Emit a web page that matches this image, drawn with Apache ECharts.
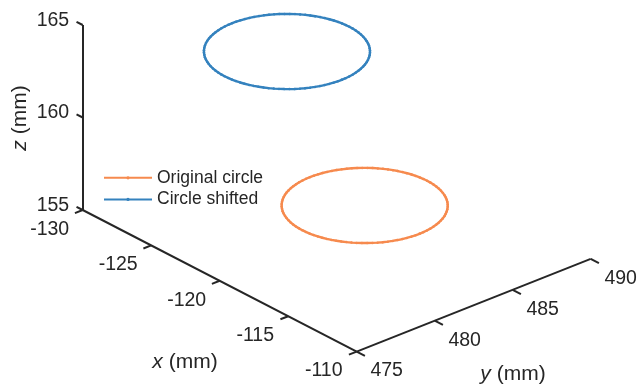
<!DOCTYPE html>
<html>
<head>
<meta charset="utf-8">
<script src="https://cdn.jsdelivr.net/npm/echarts@6/dist/echarts.min.js"></script>
<style>html,body{margin:0;padding:0;background:#fff}#c{width:639px;height:385px}</style>
</head>
<body>
<div id="c"></div>
<script>
// ---- data ----
const xTicks = [-130, -125, -120, -115, -110];
const yTicks = [475, 480, 485, 490];
const zTicks = [155, 160, 165];
const seriesNames = ['Original circle', 'Circle shifted'];
const circleCenters = [[-121.43, 485.55, 155.0], [-123.63, 482.5, 163.5]];
const circleRadius = [4, 4];
const circlePoints = 100;

// ---- 3D -> 2D view (layout) ----
const O = [82.7, 210], EX = [13.7, 7.08], EY = [15.6, -6.18], EZ = [0, -18.5];
const xmin = xTicks[0], xmax = xTicks[xTicks.length - 1];
const ymin = yTicks[0], ymax = yTicks[yTicks.length - 1];
const zmin = zTicks[0], zmax = zTicks[zTicks.length - 1];
function proj(x, y, z) {
  const dx = x - xmin, dy = y - ymin, dz = z - zmin;
  return [O[0] + EX[0] * dx + EY[0] * dy + EZ[0] * dz,
          O[1] + EX[1] * dx + EY[1] * dy + EZ[1] * dz];
}
function circle(c, r) {
  const pts = [];
  for (let i = 0; i <= circlePoints; i++) {
    const t = 2 * Math.PI * i / circlePoints;
    pts.push(proj(c[0] + r * Math.cos(t), c[1] + r * Math.sin(t), c[2]));
  }
  return pts;
}

const ink = '#262626';
const font = 'Liberation Sans, Arial, Helvetica, sans-serif';
const colors = ['#F68A4E', '#3482BE'];

const segs = [];
segs.push({coords: [proj(xmin, ymin, zmin), proj(xmin, ymin, zmax)]});
segs.push({coords: [proj(xmin, ymin, zmin), proj(xmax, ymin, zmin)]});
segs.push({coords: [proj(xmax, ymin, zmin), proj(xmax, ymax, zmin)]});
xTicks.forEach(v => segs.push({coords: [proj(v, ymin, zmin), proj(v, ymin - 0.5, zmin)]}));
yTicks.forEach(v => segs.push({coords: [proj(xmax, v, zmin), proj(xmax + 0.6, v, zmin)]}));
zTicks.forEach(v => segs.push({coords: [proj(xmin, ymin, v), proj(xmin - 0.45, ymin, v)]}));

function tickLabels(vals, fn, align, off) {
  return {
    type: 'custom', silent: true, z: 5,
    data: vals.map(v => fn(v).concat([v])),
    renderItem: function (params, api) {
      const p = api.coord([api.value(0), api.value(1)]);
      return {type: 'text', x: p[0] + off[0], y: p[1] + off[1],
        style: {text: String(api.value(2)), fill: ink, fontSize: 19.5, fontFamily: font,
          align: align, verticalAlign: 'middle'}};
    }
  };
}

const series = [
  {type: 'lines', coordinateSystem: 'cartesian2d', silent: true, z: 3,
   lineStyle: {color: ink, width: 2, opacity: 1}, data: segs},
  tickLabels(xTicks, v => proj(v, ymin, zmin), 'center', [-33, 19.5]),
  tickLabels(yTicks, v => proj(xmax, v, zmin), 'center', [30, 19.5]),
  tickLabels(zTicks, v => proj(xmin, ymin, v), 'right', [-13.5, -4.5])
];
seriesNames.forEach((n, i) => series.push({
  name: n, type: 'line', data: circle(circleCenters[i], circleRadius[i]),
  color: colors[i], lineStyle: {width: 2.4, color: colors[i]},
  symbol: 'circle', symbolSize: 2.5, showSymbol: true,
  itemStyle: {color: colors[i]}, animation: false, z: 4
}));

const chart = echarts.init(document.getElementById('c'));
chart.setOption({
  animation: false,
  grid: {left: 0, right: 0, top: 0, bottom: 0},
  xAxis: {type: 'value', min: 0, max: 639, show: false},
  yAxis: {type: 'value', min: 0, max: 385, inverse: true, show: false},
  legend: {
    data: seriesNames, orient: 'vertical', left: 98, top: 162,
    itemWidth: 48, itemHeight: 4, itemGap: 0,
    textStyle: {fontSize: 17.5, fontFamily: font, color: ink, lineHeight: 21.6}
  },
  graphic: [
    {type: 'text', x: 185, y: 362, style: {text: '{i|x} (mm)', fontSize: 21, fontFamily: font, fill: ink,
      align: 'center', verticalAlign: 'middle', rich: {i: {fontStyle: 'italic', fontSize: 21, fontFamily: font}}}},
    {type: 'text', x: 513, y: 374, style: {text: '{i|y} (mm)', fontSize: 21, fontFamily: font, fill: ink,
      align: 'center', verticalAlign: 'middle', rich: {i: {fontStyle: 'italic', fontSize: 21, fontFamily: font}}}},
    {type: 'text', x: 20, y: 118, rotation: Math.PI / 2, style: {text: '{i|z} (mm)', fontSize: 21, fontFamily: font, fill: ink,
      align: 'center', verticalAlign: 'middle', rich: {i: {fontStyle: 'italic', fontSize: 21, fontFamily: font}}}}
  ],
  series: series
});
</script>
</body>
</html>
